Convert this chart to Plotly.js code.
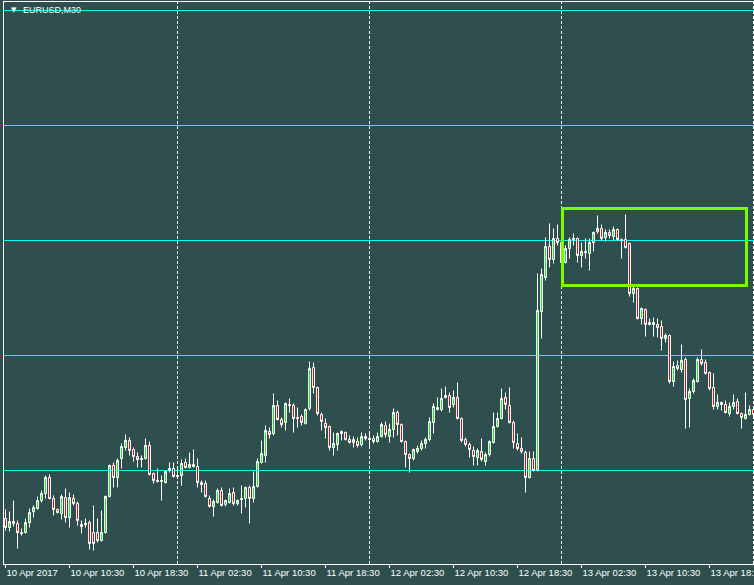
<!DOCTYPE html>
<html><head><meta charset="utf-8">
<script src="https://cdn.plot.ly/plotly-3.0.1.min.js"></script>
<style>html,body{margin:0;padding:0;background:#2F4F4F;}#chart{width:754px;height:585px;}</style>
</head><body><div id="chart"></div>
<script>
const symbolTitle = "EURUSD,M30";
const tickBars = [0,16,32,48,64,80,96,112,128,144,160,176];
const tickLabels = ["10 Apr 2017","10 Apr 10:30","10 Apr 18:30","11 Apr 02:30","11 Apr 10:30","11 Apr 18:30","12 Apr 02:30","12 Apr 10:30","12 Apr 18:30","13 Apr 02:30","13 Apr 10:30","13 Apr 18:30"];
const daySeparatorBars = [43,91,139,187];
const levelLines = [1.06920,1.06690,1.06460,1.06230,1.06000];
const boxFromBar = 139.25, boxToBar = 185.25, boxTop = 1.06524, boxBottom = 1.06370;

const open = [1.05904,1.05886,1.05898,1.05894,1.05876,1.05876,1.05896,1.05918,1.05924,1.05940,
1.05954,1.05986,1.05944,1.05922,1.05914,1.05946,1.05906,1.05944,1.05934,1.05892,
1.05892,1.05896,1.05876,1.05876,1.05860,1.05876,1.05948,1.06010,1.05986,1.06024,
1.06046,1.06060,1.06042,1.06028,1.06024,1.06024,1.06050,1.05994,1.05980,1.05978,
1.05976,1.06000,1.06004,1.05990,1.05990,1.06016,1.06006,1.06008,1.06008,1.05976,
1.05974,1.05944,1.05928,1.05936,1.05960,1.05932,1.05936,1.05956,1.05934,1.05944,
1.05944,1.05966,1.05944,1.05968,1.06016,1.06030,1.06078,1.06074,1.06130,1.06102,
1.06096,1.06132,1.06130,1.06106,1.06108,1.06094,1.06124,1.06206,1.06166,1.06112,
1.06094,1.06088,1.06046,1.06052,1.06074,1.06076,1.06062,1.06056,1.06058,1.06052,
1.06068,1.06064,1.06064,1.06058,1.06068,1.06090,1.06068,1.06082,1.06116,1.06092,
1.06058,1.06032,1.06024,1.06038,1.06044,1.06054,1.06062,1.06096,1.06126,1.06122,
1.06146,1.06150,1.06132,1.06146,1.06104,1.06062,1.06052,1.06040,1.06026,1.06038,
1.06018,1.06032,1.06056,1.06088,1.06104,1.06146,1.06130,1.06096,1.06054,1.06044,
1.06036,1.05986,1.06024,1.06000,1.06318,1.06386,1.06448,1.06422,1.06464,1.06456,
1.06416,1.06444,1.06462,1.06464,1.06430,1.06438,1.06434,1.06456,1.06478,1.06484,
1.06466,1.06476,1.06468,1.06482,1.06462,1.06462,1.06454,1.06354,1.06364,1.06304,
1.06322,1.06292,1.06296,1.06292,1.06288,1.06264,1.06270,1.06178,1.06210,1.06202,
1.06222,1.06144,1.06158,1.06178,1.06222,1.06216,1.06196,1.06166,1.06128,1.06136,
1.06132,1.06114,1.06128,1.06138,1.06114,1.06104,1.06112,1.06122];
const high = [1.05922,1.05918,1.05940,1.05900,1.05884,1.05904,1.05924,1.05930,1.05948,1.05960,
1.05990,1.05992,1.05950,1.05924,1.05952,1.05964,1.05956,1.05952,1.05938,1.05900,
1.05904,1.05900,1.05930,1.05904,1.05920,1.05950,1.06012,1.06016,1.06024,1.06054,
1.06072,1.06066,1.06046,1.06036,1.06030,1.06064,1.06058,1.05996,1.06004,1.05990,
1.06000,1.06016,1.06016,1.06006,1.06022,1.06024,1.06036,1.06042,1.06024,1.05980,
1.05980,1.05950,1.05942,1.05964,1.05966,1.05942,1.05964,1.05966,1.05942,1.05970,
1.05968,1.05970,1.05998,1.06024,1.06060,1.06090,1.06086,1.06154,1.06140,1.06106,
1.06136,1.06144,1.06134,1.06126,1.06112,1.06124,1.06218,1.06216,1.06168,1.06116,
1.06104,1.06090,1.06076,1.06076,1.06080,1.06078,1.06070,1.06068,1.06066,1.06076,
1.06074,1.06074,1.06070,1.06076,1.06096,1.06098,1.06094,1.06124,1.06120,1.06094,
1.06060,1.06034,1.06044,1.06050,1.06060,1.06066,1.06106,1.06134,1.06146,1.06164,
1.06168,1.06156,1.06160,1.06176,1.06106,1.06066,1.06056,1.06048,1.06044,1.06064,
1.06036,1.06060,1.06116,1.06116,1.06164,1.06156,1.06166,1.06100,1.06074,1.06066,
1.06040,1.06038,1.06038,1.06394,1.06404,1.06466,1.06494,1.06484,1.06492,1.06460,
1.06450,1.06466,1.06474,1.06466,1.06456,1.06464,1.06464,1.06478,1.06510,1.06492,
1.06482,1.06482,1.06488,1.06484,1.06464,1.06512,1.06456,1.06370,1.06366,1.06326,
1.06324,1.06304,1.06306,1.06304,1.06300,1.06274,1.06272,1.06218,1.06220,1.06252,
1.06226,1.06164,1.06184,1.06226,1.06242,1.06222,1.06198,1.06194,1.06152,1.06138,
1.06140,1.06136,1.06152,1.06144,1.06116,1.06156,1.06130,1.06124];
const low = [1.05880,1.05878,1.05888,1.05844,1.05870,1.05874,1.05886,1.05906,1.05922,1.05936,
1.05944,1.05942,1.05910,1.05914,1.05902,1.05896,1.05886,1.05930,1.05890,1.05874,
1.05886,1.05842,1.05840,1.05856,1.05858,1.05874,1.05946,1.05966,1.05966,1.06004,
1.06040,1.06030,1.06018,1.06006,1.06006,1.06022,1.05990,1.05974,1.05976,1.05940,
1.05974,1.05996,1.05986,1.05986,1.05970,1.06004,1.06004,1.06006,1.05966,1.05956,
1.05946,1.05926,1.05908,1.05934,1.05928,1.05928,1.05934,1.05930,1.05930,1.05914,
1.05926,1.05894,1.05936,1.05966,1.06014,1.06016,1.06064,1.06070,1.06100,1.06086,
1.06080,1.06116,1.06076,1.06086,1.06090,1.06092,1.06120,1.06154,1.06110,1.06080,
1.06064,1.06040,1.06030,1.06040,1.06060,1.06060,1.06054,1.06046,1.06046,1.06048,
1.06060,1.06044,1.06054,1.06056,1.06066,1.06066,1.06056,1.06066,1.06070,1.06056,
1.06006,1.05996,1.06020,1.06034,1.06040,1.06044,1.06058,1.06074,1.06120,1.06118,
1.06144,1.06116,1.06126,1.06102,1.06056,1.06048,1.06026,1.06010,1.06010,1.06018,
1.06010,1.06028,1.06054,1.06086,1.06102,1.06122,1.06094,1.06044,1.06040,1.06034,
1.05956,1.05984,1.05998,1.05998,1.06264,1.06380,1.06406,1.06414,1.06450,1.06408,
1.06414,1.06424,1.06450,1.06416,1.06406,1.06424,1.06400,1.06438,1.06474,1.06460,
1.06458,1.06464,1.06460,1.06460,1.06424,1.06444,1.06348,1.06336,1.06302,1.06292,
1.06268,1.06290,1.06268,1.06266,1.06240,1.06256,1.06174,1.06168,1.06200,1.06196,
1.06084,1.06086,1.06154,1.06176,1.06210,1.06192,1.06160,1.06122,1.06122,1.06120,
1.06114,1.06108,1.06122,1.06112,1.06084,1.06102,1.06110,1.06108];
const close = [1.05886,1.05898,1.05894,1.05876,1.05874,1.05896,1.05916,1.05926,1.05940,1.05954,
1.05986,1.05944,1.05922,1.05916,1.05948,1.05906,1.05946,1.05934,1.05900,1.05888,
1.05894,1.05854,1.05854,1.05860,1.05876,1.05948,1.06010,1.05986,1.06020,1.06048,
1.06060,1.06040,1.06028,1.06022,1.06022,1.06050,1.05992,1.05980,1.05978,1.05980,
1.05998,1.06004,1.05988,1.05988,1.06014,1.06006,1.06012,1.06012,1.05976,1.05972,
1.05948,1.05928,1.05938,1.05960,1.05930,1.05940,1.05954,1.05934,1.05940,1.05942,
1.05966,1.05944,1.05968,1.06018,1.06034,1.06080,1.06072,1.06130,1.06102,1.06092,
1.06134,1.06130,1.06104,1.06104,1.06096,1.06122,1.06204,1.06166,1.06114,1.06098,
1.06086,1.06046,1.06054,1.06074,1.06078,1.06062,1.06056,1.06062,1.06050,1.06068,
1.06064,1.06062,1.06058,1.06068,1.06092,1.06072,1.06082,1.06116,1.06092,1.06058,
1.06032,1.06024,1.06042,1.06044,1.06054,1.06062,1.06098,1.06128,1.06122,1.06144,
1.06150,1.06126,1.06146,1.06104,1.06060,1.06052,1.06042,1.06028,1.06040,1.06022,
1.06032,1.06058,1.06088,1.06104,1.06144,1.06132,1.06096,1.06056,1.06044,1.06038,
1.05986,1.06024,1.06000,1.06320,1.06392,1.06448,1.06422,1.06464,1.06456,1.06416,
1.06444,1.06462,1.06464,1.06430,1.06438,1.06436,1.06456,1.06476,1.06484,1.06464,
1.06476,1.06470,1.06482,1.06462,1.06460,1.06446,1.06354,1.06364,1.06304,1.06324,
1.06292,1.06296,1.06292,1.06286,1.06264,1.06270,1.06178,1.06208,1.06204,1.06220,
1.06142,1.06158,1.06180,1.06222,1.06214,1.06194,1.06164,1.06128,1.06136,1.06132,
1.06116,1.06128,1.06136,1.06114,1.06106,1.06112,1.06122,1.06112];

const barIndex = open.map((_, i) => i);

const SLATE = '#2F4F4F';
const trace = {
  type: 'candlestick', x: barIndex, open: open, high: high, low: low, close: close,
  increasing: {line: {color: '#FFFFFF', width: 1}, fillcolor: '#00FF00'},
  decreasing: {line: {color: '#FFFFFF', width: 1}, fillcolor: '#FF0000'},
  whiskerwidth: 0, hoverinfo: 'skip', showlegend: false
};

const shapes = [];
levelLines.forEach(v => shapes.push({type: 'line', xref: 'paper', x0: 0, x1: 1, yref: 'y', y0: v, y1: v,
  line: {color: '#00FFFF', width: 1}, layer: 'below'}));
daySeparatorBars.forEach(b => shapes.push({type: 'line', xref: 'x', x0: b, x1: b, yref: 'paper', y0: 0, y1: 1,
  line: {color: '#FFFFFF', width: 1, dash: '3px,2px'}, layer: 'below'}));
shapes.push({type: 'rect', xref: 'x', yref: 'y', x0: boxFromBar, x1: boxToBar, y0: boxBottom, y1: boxTop,
  line: {color: '#7CFC00', width: 3}, fillcolor: 'rgba(0,0,0,0)', layer: 'above'});

const layout = {
  width: 754, height: 585,
  margin: {l: 4, r: 0, t: 2, b: 21, pad: 0},
  paper_bgcolor: SLATE, plot_bgcolor: SLATE,
  showlegend: false,
  boxgap: 0.5, boxgroupgap: 0,
  xaxis: {
    range: [-0.375, 187.125], showgrid: false, zeroline: false,
    showline: true, linecolor: '#FFFFFF', linewidth: 1, mirror: true,
    ticks: 'outside', ticklen: 3, tickwidth: 1, tickcolor: '#FFFFFF',
    tickmode: 'array', tickvals: tickBars, ticktext: tickLabels,
    ticklabelposition: 'outside right', ticklabeloverflow: 'allow',
    tickfont: {family: 'Liberation Sans, Arial, sans-serif', size: 9.5, color: '#FFFFFF'},
    rangeslider: {visible: false}, fixedrange: true
  },
  yaxis: {
    range: [1.05813, 1.06937], showgrid: false, zeroline: false,
    showline: true, linecolor: '#FFFFFF', linewidth: 1,
    showticklabels: false, ticks: '', fixedrange: true
  },
  shapes: shapes,
  annotations: [
    {xref: 'paper', yref: 'paper', x: 0.0067, y: 0.9858, xanchor: 'left', yanchor: 'middle', showarrow: false,
     text: '▼', font: {family: 'DejaVu Sans', size: 7, color: '#FFFFFF'}},
    {xref: 'paper', yref: 'paper', x: 0.0227, y: 0.9858, xanchor: 'left', yanchor: 'middle', showarrow: false,
     text: symbolTitle, font: {family: 'Liberation Sans, Arial, sans-serif', size: 9, color: '#FFFFFF'}}
  ]
};

Plotly.newPlot('chart', [trace], layout, {staticPlot: true, displayModeBar: false});
</script>
</body></html>
